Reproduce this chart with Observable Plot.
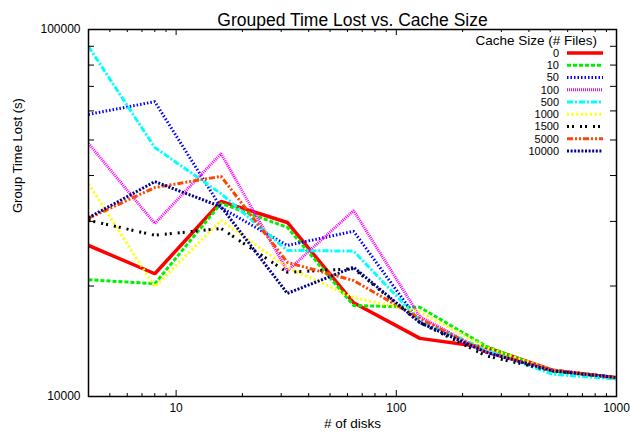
<!DOCTYPE html>
<html><head><meta charset="utf-8">
<script src="https://cdn.jsdelivr.net/npm/d3@7"></script>
<script src="https://cdn.jsdelivr.net/npm/@observablehq/plot@0.6"></script>
<style>
body{margin:0;background:#fff;}
#wrap{position:relative;width:631px;height:438px;}
svg{font-family:"Liberation Sans",Arial,sans-serif;}
#legend{position:absolute;left:0;top:0;pointer-events:none;}
</style>
</head><body><div id="wrap"></div>
<script>
const disks = [4, 8, 16, 32, 64, 128, 256, 512, 1024];
const cacheSizes = ["0", "10", "50", "100", "500", "1000", "1500", "5000", "10000"];
const lost0     = [25800, 21600, 34000, 29800, 18000, 14400, 13600, 11800, 11200];
const lost10    = [20800, 20300, 33600, 28900, 17700, 17500, 13700, 11700, 11200];
const lost50    = [58700, 63600, 32700, 25800, 28200, 15900, 13200, 11800, 11250];
const lost100   = [48900, 29600, 45900, 22000, 32100, 16500, 13200, 11800, 11250];
const lost500   = [89900, 47700, 35700, 25000, 24900, 16100, 13400, 11500, 11150];
const lost1000  = [38000, 19900, 30200, 22500, 18600, 17000, 13600, 11800, 11250];
const lost1500  = [30200, 27500, 28700, 21800, 22300, 15900, 12900, 11750, 11250];
const lost5000  = [30600, 37100, 39800, 23200, 20700, 16300, 13200, 11800, 11250];
const lost10000 = [30700, 38500, 32900, 19100, 22500, 15900, 13200, 11750, 11250];
const seriesValues = [lost0, lost10, lost50, lost100, lost500, lost1000, lost1500, lost5000, lost10000];

const xTickLabels = [10, 100, 1000];
const xMinorTicks = [5, 6, 7, 8, 9, 20, 30, 40, 50, 60, 70, 80, 90, 200, 300, 400, 500, 600, 700, 800, 900];
const yTickLabels = [10000, 100000];
const yMinorTicks = [20000, 30000, 40000, 50000, 60000, 70000, 80000, 90000];

const titleText = "Grouped Time Lost vs. Cache Size";
const xLabel = "# of disks";
const yLabel = "Group Time Lost (s)";
const legendTitle = "Cache Size (# Files)";

const colors = ["#ff0000", "#00f000", "#0000ff", "#ff00ff", "#00ffff", "#ffff00", "#000000", "#ff4500", "#00008b"];
const dashes = ["none", "4,2", "1.5,2", "1,1", "6,2,2,2", "2,2.6", "2,3,2,6", "6,2,2,2,2,2", "2,1.6"];
const widths = [3.5, 3, 3, 3, 3, 3, 3, 3, 3];

const W = 631, H = 438, mL = 88, mR = 15, mT = 29, mB = 42;
const pw = W - mL - mR, ph = H - mT - mB;

const lineMarks = cacheSizes.map((c, i) => Plot.line(
  disks.map((d, j) => ({disks: d, lost: seriesValues[i][j]})),
  {x: "disks", y: "lost", stroke: colors[i], strokeWidth: widths[i], strokeDasharray: dashes[i],
   strokeLinecap: "butt", strokeLinejoin: "miter", clip: true}
));

const chart = Plot.plot({
  width: W, height: H,
  marginLeft: mL, marginRight: mR, marginTop: mT, marginBottom: mB,
  style: {fontFamily: '"Liberation Sans", Arial, sans-serif', fontSize: "12px", color: "#000", background: "#fff"},
  x: {type: "log", domain: [4, 1000]},
  y: {type: "log", domain: [10000, 100000]},
  marks: [
    ...lineMarks,
    Plot.tickX(xMinorTicks, {x: d => d, insetTop: ph - 3, stroke: "#000", strokeWidth: 1}),
    Plot.tickX(xMinorTicks, {x: d => d, insetBottom: ph - 3, stroke: "#000", strokeWidth: 1}),
    Plot.tickX(xTickLabels, {x: d => d, insetTop: ph - 6, stroke: "#000", strokeWidth: 1}),
    Plot.tickX(xTickLabels, {x: d => d, insetBottom: ph - 6, stroke: "#000", strokeWidth: 1}),
    Plot.tickY(yMinorTicks, {y: d => d, insetRight: pw - 6, stroke: "#000", strokeWidth: 1}),
    Plot.tickY(yMinorTicks, {y: d => d, insetLeft: pw - 6, stroke: "#000", strokeWidth: 1}),
    Plot.frame({stroke: "#000", strokeWidth: 1.5}),
    Plot.axisX({ticks: xTickLabels, tickSize: 0, tickPadding: 7, tickFormat: d => String(d), label: null, fontSize: 12}),
    Plot.axisY({ticks: yTickLabels, tickSize: 0, tickPadding: 8, tickFormat: d => String(d), label: null, fontSize: 12}),
    Plot.text([titleText], {text: d => d, frameAnchor: "top", dy: -16, fontSize: 17.5}),
    Plot.text([xLabel], {text: d => d, frameAnchor: "bottom", dy: 31, fontSize: 13.5}),
    Plot.text([yLabel], {text: d => d, frameAnchor: "left", dx: -71, rotate: -90, fontSize: 13})
  ]
});
const wrap = document.getElementById("wrap");
wrap.appendChild(chart);

// legend overlay (inside plot, top-right, gnuplot style)
const lg = d3.select(wrap).append("svg").attr("id", "legend").attr("width", W).attr("height", H);
lg.append("text").attr("x", 597).attr("y", 40).attr("dy", "0.35em").attr("text-anchor", "end")
  .attr("font-size", 13.5).text(legendTitle);
cacheSizes.forEach((c, i) => {
  const y = 53 + i * 12.25;
  lg.append("text").attr("x", 559).attr("y", y).attr("dy", "0.35em").attr("text-anchor", "end")
    .attr("font-size", 11).text(c);
  lg.append("line").attr("x1", 567).attr("x2", 603).attr("y1", y).attr("y2", y)
    .attr("stroke", colors[i]).attr("stroke-width", widths[i])
    .attr("stroke-dasharray", dashes[i]);
});
</script>
</body></html>
